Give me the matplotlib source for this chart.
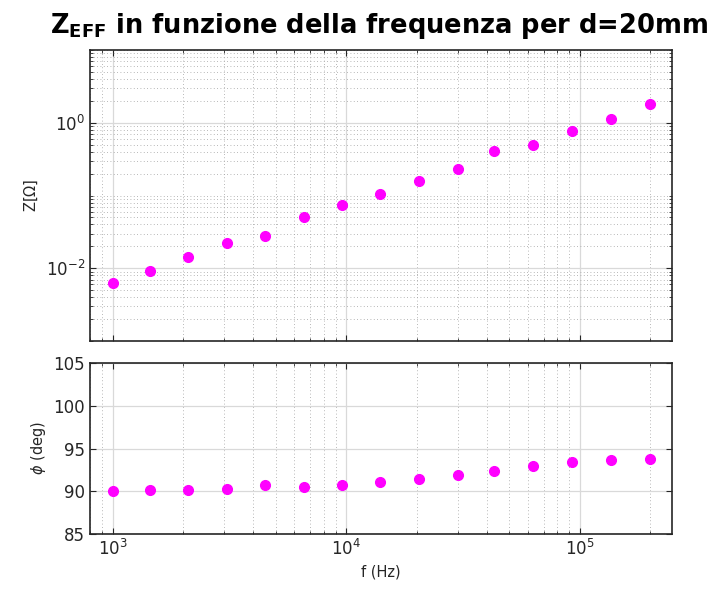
import numpy as np
import matplotlib
matplotlib.use("Agg")
from matplotlib import pyplot as plt
from matplotlib.ticker import LogLocator, NullFormatter, NullLocator

# dati
freq = [1000, 1450, 2100, 3100, 4500, 6600, 9600, 14000, 20500, 30000,
        43000, 63000, 93000, 136000, 200000]
z_eff = [0.0062, 0.0092, 0.0145, 0.0221, 0.0282, 0.050, 0.075, 0.104, 0.160, 0.234,
         0.415, 0.50, 0.766, 1.11, 1.79]
phase = [90.0, 90.15, 90.15, 90.3, 90.7, 90.5, 90.7, 91.1, 91.4, 91.9,
         92.4, 92.95, 93.4, 93.65, 93.8]

title = r"$\mathbf{Z_{EFF}}$ in funzione della frequenza per d=20mm"

txt_col = "#262626"
plt.rcParams['font.family'] = ['DejaVu Sans']
plt.rcParams['axes.unicode_minus'] = False
plt.rcParams['axes.edgecolor'] = "#262626"
plt.rcParams['xtick.color'] = "#262626"
plt.rcParams['ytick.color'] = "#262626"

fig = plt.figure(figsize=(7.13, 5.90), dpi=100)
ax1 = fig.add_axes([0.1262, 0.422, 0.8156, 0.4932])
ax2 = fig.add_axes([0.1262, 0.0944, 0.8156, 0.2908])


def style_axis(ax):
    ax.tick_params(which='both', direction='in', top=True, right=True, labelsize=12,
                   labelcolor=txt_col)
    ax.tick_params(which='major', length=4, width=0.8)
    ax.tick_params(which='minor', length=2, width=0.6)
    ax.grid(which='major', color='#d9d9d9', linestyle='-', linewidth=0.9)
    ax.grid(which='minor', color='#a0a0a0', linestyle=(0, (1, 3)), linewidth=0.6)
    ax.set_axisbelow(True)
    for s in ax.spines.values():
        s.set_linewidth(1.2)


# grafico modulo
ax1.plot(freq, z_eff, linestyle='none', marker='o', markersize=7, color='#ff00ff')
ax1.set_xscale('log')
ax1.set_yscale('log')
ax1.set_xlim(800, 2.47e5)
ax1.set_ylim(1e-3, 1e1)
ax1.set_yticks([1e-2, 1e0])
ax1.yaxis.set_minor_locator(LogLocator(base=10, subs=np.arange(1, 10), numticks=50))
ax1.yaxis.set_minor_formatter(NullFormatter())
ax1.xaxis.set_minor_locator(LogLocator(base=10, subs=np.arange(2, 10), numticks=50))
ax1.xaxis.set_minor_formatter(NullFormatter())
ax1.tick_params(labelbottom=False)
ax1.set_ylabel(r"Z[$\Omega$]", fontsize=10.5, color=txt_col)
style_axis(ax1)
ax1.set_title(title, fontsize=18.5, fontweight='bold', x=0.497, pad=12)

# grafico fase
ax2.plot(freq, phase, linestyle='none', marker='o', markersize=7, color='#ff00ff')
ax2.set_xscale('log')
ax2.set_xlim(800, 2.47e5)
ax2.set_ylim(85, 105)
ax2.set_yticks([85, 90, 95, 100, 105])
ax2.yaxis.set_minor_locator(NullLocator())
ax2.xaxis.set_minor_locator(LogLocator(base=10, subs=np.arange(2, 10), numticks=50))
ax2.xaxis.set_minor_formatter(NullFormatter())
ax2.set_ylabel(r"$\phi$ (deg)", fontsize=10.5, color=txt_col)
ax2.set_xlabel("f (Hz)", fontsize=10.5, color=txt_col)
style_axis(ax2)

plt.savefig("out.png", dpi=100)
plt.close()
